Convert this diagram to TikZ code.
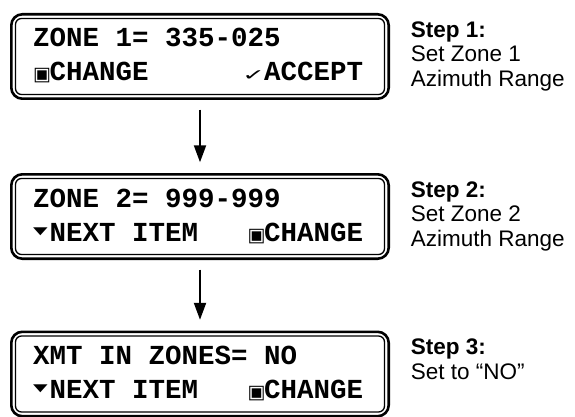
\documentclass[tikz,border=0pt]{standalone}
\usepackage{graphicx}
\usepackage{fontspec}
\setmainfont{Liberation Sans}
\newfontfamily\lcdfont{Liberation Mono}
\newfontfamily\symfont{DejaVu Sans}
\usetikzlibrary{arrows.meta,positioning,calc,fit}

\newlength\lcdcell
\setlength\lcdcell{16.5pt}
\newcommand\lcdkey{\makebox[\lcdcell][l]{\fontsize{19}{19}\symfont ▣}}
\newcommand\lcddown{\makebox[\lcdcell][l]{\raisebox{7pt}{\scalebox{1}[0.55]{\fontsize{19}{19}\symfont ▼}}}}
\newcommand\lcdok{\makebox[\lcdcell][r]{\scalebox{1.15}[0.65]{\fontsize{24}{24}\symfont ✓}\kern-1pt}}

\tikzset{
  lcd/.style={draw, line width=1.3pt, rounded corners=6pt, minimum width=369pt,
    minimum height=76pt, inner sep=0pt, outer sep=0pt},
  lcdframe/.style={draw, line width=2.6pt, rounded corners=11pt, inner sep=4.2pt, outer sep=0pt},
  lcdtext/.style={font={\lcdfont\bfseries\fontsize{27.5}{30}\selectfont}, inner sep=0pt, anchor=base west},
  steptext/.style={font={\fontsize{22.5}{24.5}\selectfont}, align=left, inner sep=0pt, anchor=north west},
  flow/.style={-{Triangle[width=12pt,length=17pt]}, line width=2pt, shorten <=11pt, shorten >=12pt}
}

\begin{document}
\begin{tikzpicture}
  \useasboundingbox (0,0) rectangle (575pt,-417pt);

  % Display panels
  \node[lcd] (lcd1) at (200pt,-56.5pt) {};
  \node[lcd, below=84pt of lcd1] (lcd2) {};
  \node[lcd, below=81.5pt of lcd2] (lcd3) {};
  \foreach \i in {1,2,3}
    \node[lcdframe, fit=(lcd\i)] (lcd\i frame) {};

  % Panel texts
  \node[lcdtext] (zone1) at ($(lcd1.center)+(-167pt,9.5pt)$) {ZONE 1= 335-025};
  \node[lcdtext] (keys1) at ($(lcd1.center)+(-167pt,-24.5pt)$)
    {\makebox[20\lcdcell][l]{\lcdkey CHANGE\hfill\lcdok ACCEPT}};
  \node[lcdtext] (zone2) at ($(lcd2.center)+(-167pt,9.5pt)$) {ZONE 2= 999-999};
  \node[lcdtext] (keys2) at ($(lcd2.center)+(-167pt,-24.5pt)$)
    {\makebox[20\lcdcell][l]{\lcddown NEXT ITEM\hfill\lcdkey CHANGE}};
  \node[lcdtext] (xmt) at ($(lcd3.center)+(-167pt,9.5pt)$) {XMT IN ZONES= NO};
  \node[lcdtext] (keys3) at ($(lcd3.center)+(-167pt,-24.5pt)$)
    {\makebox[20\lcdcell][l]{\lcddown NEXT ITEM\hfill\lcdkey CHANGE}};

  % Step notes
  \node[steptext] (step1) at ($(lcd1frame.north east)+(22pt,-7pt)$)
    {\textbf{Step 1:}\\Set Zone 1\\Azimuth Range};
  \node[steptext] (step2) at ($(lcd2frame.north east)+(22pt,-7pt)$)
    {\textbf{Step 2:}\\Set Zone 2\\Azimuth Range};
  \node[steptext] (step3) at ($(lcd3frame.north east)+(22pt,-7pt)$)
    {\textbf{Step 3:}\\Set to “NO”};

  % Flow
  \draw[flow] (lcd1frame) -- (lcd2frame);
  \draw[flow] (lcd2frame) -- (lcd3frame);
\end{tikzpicture}
\end{document}
